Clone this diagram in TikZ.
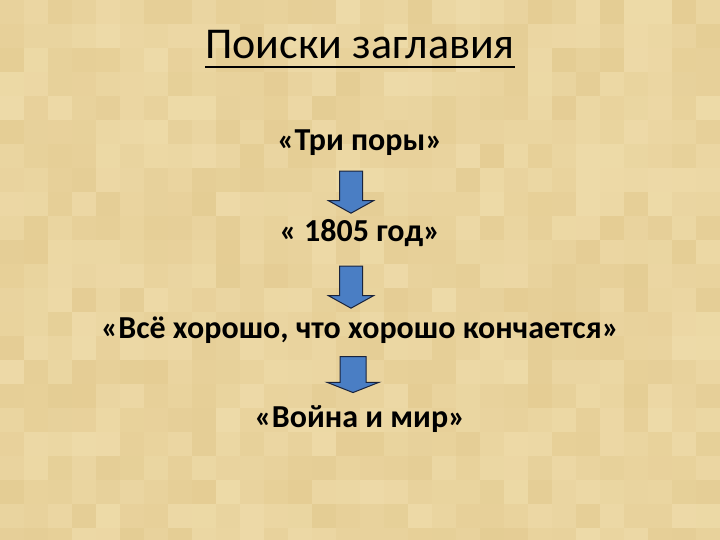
\documentclass[tikz,border=0pt]{standalone}
\usepackage{fontspec}
\setmainfont{Carlito}
\usetikzlibrary{shapes.arrows,positioning}
\definecolor{parchment}{RGB}{232,210,155}
\definecolor{parchmentlight}{RGB}{242,225,178}
\definecolor{parchmentdark}{RGB}{224,198,138}
\definecolor{arrowblue}{RGB}{74,126,196}
\definecolor{arrowline}{RGB}{25,35,60}
\tikzset{
  heading/.style={
      font=\fontsize{44}{53}\selectfont,
      inner sep=0pt,
      anchor=base
  },
  stage/.style={
      font=\fontsize{32}{38}\selectfont\bfseries,
      inner sep=0pt,
      anchor=base
  },
  downarrow/.style={
      draw=arrowline,
      fill=arrowblue,
      line width=1pt,
      single arrow,
      rotate=-90,
      inner xsep=0pt,
      inner ysep=11pt,
      minimum height=42pt,
      single arrow head extend=11pt,
      single arrow tip angle=122
  }
}

\begin{document}
\begin{tikzpicture}[x=1pt,y=-1pt]
    \fill[parchment] (0,0) rectangle (720,540);
    \useasboundingbox (0,0) rectangle (720,540);
    % parchment tiles
    \pgfmathsetseed{12}
    \foreach \i in {0,...,29}
        \foreach \j in {0,...,22}{
            \pgfmathsetmacro\tone{int(random(25,75))}
            \fill[parchmentlight!\tone!parchmentdark] (\i*24,\j*24) rectangle +(24,24);
        }

    \node[heading] (title) at (360,59) {Поиски заглавия};
    \draw[line width=2pt] ([yshift=-8pt]title.base west) -- ([yshift=-8pt]title.base east);

    \node[stage] (tri) at (360,151) {«Три поры»};
    \node[stage] (god) at (360,241) {« 1805 год»};
    \node[stage] (vse) at (360,338) {«Всё хорошо, что хорошо кончается»};
    \node[stage] (mir) at (360,427) {«Война и мир»};

    \node[downarrow] (a1) at (351,189) {};
    \node[downarrow] (a2) at (351,284) {};
    \node[downarrow, inner ysep=12.5pt, minimum height=36pt,
        single arrow head extend=13pt, single arrow tip angle=137] (a3) at (353,372) {};
\end{tikzpicture}
\end{document}
